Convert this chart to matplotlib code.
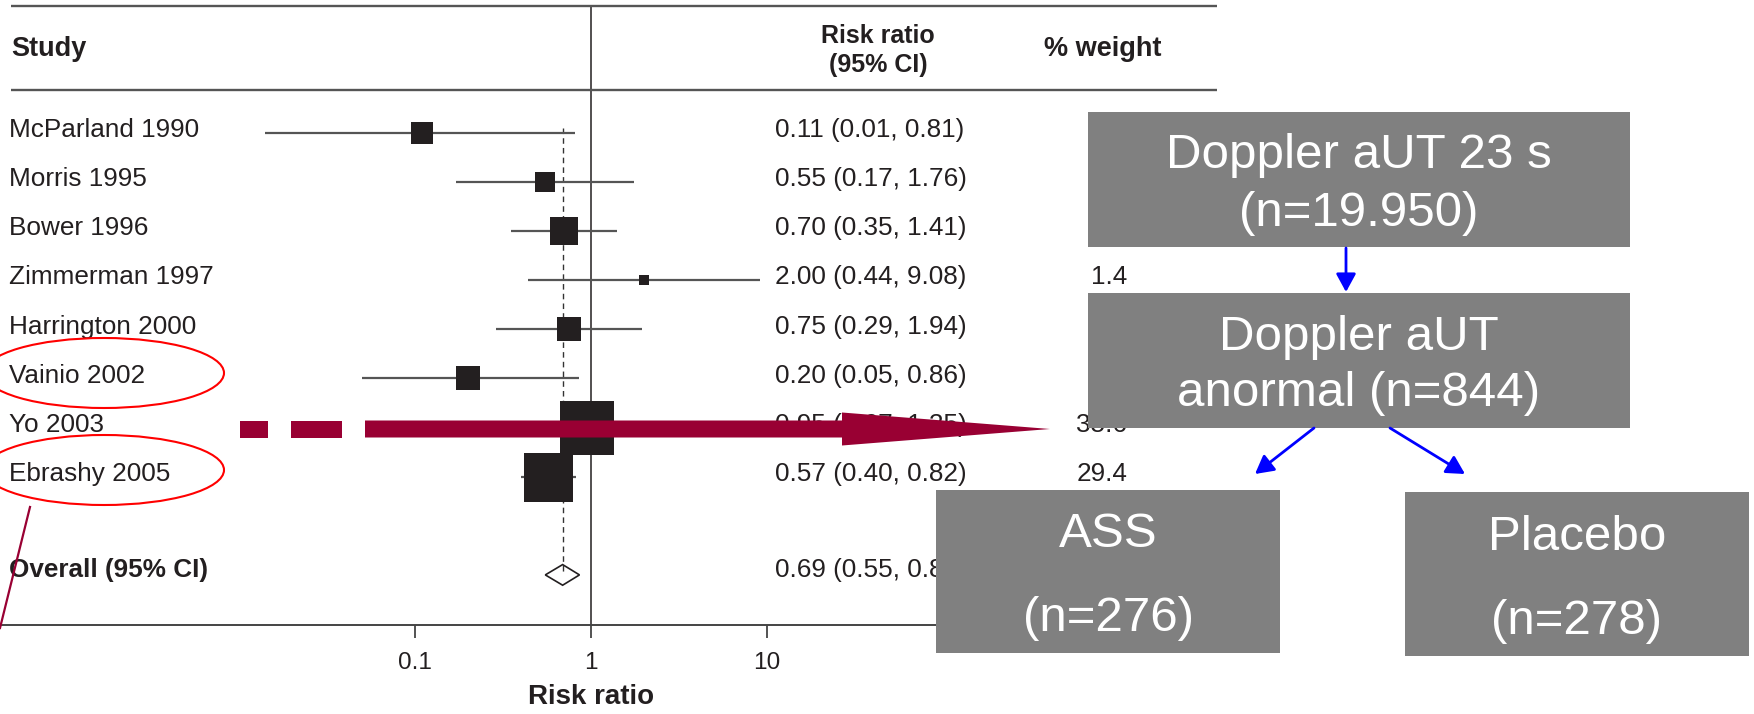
import matplotlib
matplotlib.use('Agg')
import matplotlib.pyplot as plt
from matplotlib.patches import Rectangle, Ellipse, Polygon, FancyArrow
from matplotlib.transforms import blended_transform_factory

plt.rcParams['font.family'] = ['Liberation Sans', 'DejaVu Sans']

# ---------------- data ---------------- #
studies = ['McParland 1990', 'Morris 1995', 'Bower 1996', 'Zimmerman 1997',
           'Harrington 2000', 'Vainio 2002', 'Yo 2003', 'Ebrashy 2005']
rr = [0.11, 0.55, 0.70, 2.00, 0.75, 0.20, 0.95, 0.57]
ci_lo = [0.01, 0.17, 0.35, 0.44, 0.29, 0.05, 0.67, 0.40]
ci_hi = [0.81, 1.76, 1.41, 9.08, 1.94, 0.86, 1.35, 0.82]
weights = [6.0, 5.0, 9.0, 1.4, 6.6, 7.0, 35.6, 29.4]   # only 1.4 / 29.4 readable
overall_label = 'Overall (95% CI)'
overall_rr, overall_lo, overall_hi = 0.69, 0.55, 0.86
overall_weight = 100.0
xticks = [0.1, 1, 10]
xticklabels = ['0.1', '1', '10']

flow_texts = [
    ['Doppler aUT 23 s', '(n=19.950)'],
    ['Doppler aUT', 'anormal (n=844)'],
    ['ASS', '(n=276)'],
    ['Placebo', '(n=278)'],
]

# ---------------- layout ---------------- #
W, H = 1754, 714
x_one, dec = 591, 176          # pixel of RR=1 and pixels per decade
row0, step = 133, 49.1         # pixel of first study row and row spacing
ci_clip = 0.014                # left end of drawn CI lines

txt = '#231f20'
maroon = '#990033'
grey_box = '#808080'


def prow(py):
    return (py - row0) / step


fig = plt.figure(figsize=(W / 100, H / 100), dpi=100)

ax = fig.add_axes([0, 0, 1, 1])
ax.set_xscale('log')
ax.set_xlim(10 ** (-x_one / dec), 10 ** ((W - x_one) / dec))
ax.set_ylim(prow(H), prow(0))
ax.axis('off')

ov = fig.add_axes([0, 0, 1, 1], zorder=5)
ov.set_xlim(0, W)
ov.set_ylim(H, 0)
ov.axis('off')

tr = blended_transform_factory(ov.transData, ax.transData)
toff = 0.085   # text baseline slightly below mark centre

# ---------------- forest plot ---------------- #
n = len(studies)
for i in range(n):
    ax.hlines(i, max(ci_lo[i], ci_clip), ci_hi[i], color='#555555', lw=1.6, zorder=2)
    side_px = 49 * (weights[i] / 29.4) ** 0.5
    ax.plot(rr[i], i, marker='s', ms=side_px * 0.72, color=txt, mec=txt, mew=0, zorder=3)
    ax.text(9, i + toff, studies[i], transform=tr, fontsize=18.8, color=txt, va='baseline')
    ax.text(775, i + toff, f'{rr[i]:.2f} ({ci_lo[i]:.2f}, {ci_hi[i]:.2f})', transform=tr,
            fontsize=18.8, color=txt, va='baseline')
    ax.text(1127, i + toff, f'{weights[i]:.1f}', transform=tr, fontsize=18.8, color=txt,
            va='baseline', ha='right')

yo = n + 1
ax.text(9, yo + toff - 0.04, overall_label, transform=tr, fontsize=18.8, color=txt,
        va='baseline', fontweight='bold')
ax.text(775, yo + toff - 0.04, f'{overall_rr:.2f} ({overall_lo:.2f}, {overall_hi:.2f})',
        transform=tr, fontsize=18.8, color=txt, va='baseline')
ax.text(1127, yo + toff - 0.04, f'{overall_weight:.1f}', transform=tr, fontsize=18.8,
        color=txt, va='baseline', ha='right')
dh = 0.21
ax.add_patch(Polygon([(overall_lo, yo), (overall_rr, yo - dh), (overall_hi, yo),
                      (overall_rr, yo + dh)], closed=True, fill=False, ec=txt, lw=1.2, zorder=3))
ax.vlines(overall_rr, prow(128), yo, color='#333333', lw=1, linestyles=(0, (4, 3)), zorder=1)

# reference line and axis
ax.vlines(1, prow(6), prow(625), color=txt, lw=1.1, zorder=1)
ov.hlines([6, 90], 11, 1217, color='#555555', lw=1.7, zorder=0)
ov.hlines(625, 0, 1217, color='#444444', lw=1.4, zorder=0)
ax.vlines(xticks, prow(625), prow(638), color='#444444', lw=1.3)
for t, lab in zip(xticks, xticklabels):
    ax.text(t, prow(669), lab, fontsize=17.6, color=txt, ha='center', va='baseline')
ax.text(1, prow(704), 'Risk ratio', fontsize=20, fontweight='bold', color=txt,
        ha='center', va='baseline')

# headers
ov.text(11, 56, 'Study', fontsize=19.5, fontweight='bold', color=txt, va='baseline')
ov.text(878, 43, 'Risk ratio', fontsize=18, fontweight='bold', color=txt,
        ha='center', va='baseline')
ov.text(878, 72, '(95% CI)', fontsize=18, fontweight='bold', color=txt,
        ha='center', va='baseline')
ov.text(1103, 56, '% weight', fontsize=19.5, fontweight='bold', color=txt,
        ha='center', va='baseline')

# ---------------- annotations ---------------- #
ov.add_patch(Ellipse((104, 373), 240, 70, fill=False, ec='red', lw=1.5))
ov.add_patch(Ellipse((104, 470), 240, 70, fill=False, ec='red', lw=1.5))
ov.plot([30, 0], [507, 628], color=maroon, lw=1.6)

# dashed maroon arrow
ov.add_patch(Rectangle((240, 420.5), 28, 17, fc=maroon, ec='none'))
ov.add_patch(Rectangle((291, 420.5), 51, 17, fc=maroon, ec='none'))
ov.add_patch(FancyArrow(365, 429, 1050 - 365, 0, width=17, head_width=33, head_length=208,
                        length_includes_head=True, fc=maroon, ec='none'))

# flow chart boxes
boxes = [(1088, 112, 542, 135), (1088, 293, 542, 135), (936, 490, 344, 163), (1405, 492, 344, 164)]
baselines = [(168, 226), (350, 406), (547, 631), (550, 634)]
for (bx, by, bw, bh), lines, bl in zip(boxes, flow_texts, baselines):
    ov.add_patch(Rectangle((bx, by), bw, bh, fc=grey_box, ec='none'))
    for line, yb in zip(lines, bl):
        ov.text(bx + bw / 2, yb, line, fontsize=35.5, color='white', ha='center', va='baseline')

arrow_kw = dict(arrowstyle='-|>,head_length=0.55,head_width=0.3', color='#0000ff', lw=2,
                mutation_scale=20, shrinkA=0, shrinkB=0)
ov.annotate('', xy=(1346, 292), xytext=(1346, 248), arrowprops=arrow_kw)
ov.annotate('', xy=(1255, 474), xytext=(1314, 428), arrowprops=arrow_kw)
ov.annotate('', xy=(1465, 474), xytext=(1390, 428), arrowprops=arrow_kw)

fig.savefig('out.png', dpi=100)
